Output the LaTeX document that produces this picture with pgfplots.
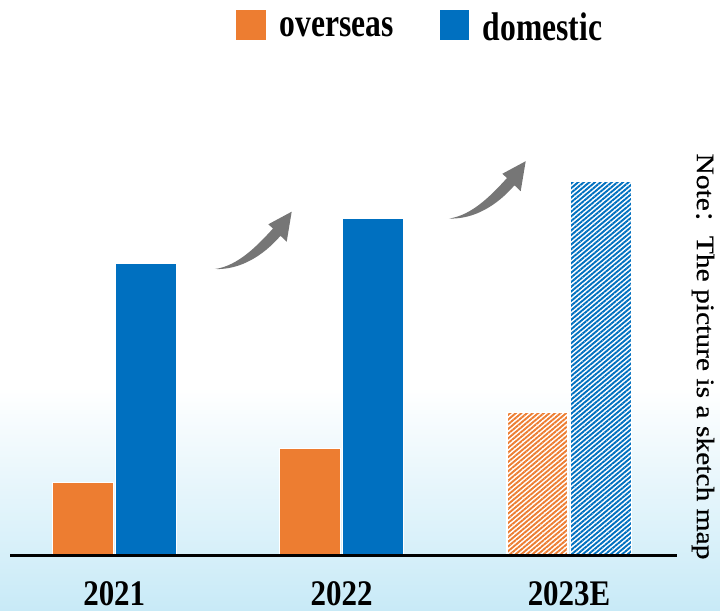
\documentclass[border=0pt]{standalone}
\usepackage{pgfplots}
\pgfplotsset{compat=1.18}
\usetikzlibrary{patterns.meta}
\usepackage{fontspec}
\setmainfont{Liberation Serif}
\newfontfamily\cond{Liberation Serif}[FakeStretch=0.79]
\newfontfamily\condb{Liberation Serif}[FakeStretch=0.86]
\newfontfamily\notefont{Liberation Serif}[FakeStretch=1.18,FakeBold=0.6]
\newfontfamily\cjk{Noto Sans CJK SC}
\definecolor{ora}{RGB}{237,125,49}
\definecolor{blu}{RGB}{0,112,192}
\definecolor{bgb}{RGB}{200,234,247}
\definecolor{arr}{RGB}{118,118,118}
\begin{document}
\begin{tikzpicture}
\useasboundingbox (0,0) rectangle (360pt,305.5pt);
\shade[top color=white, bottom color=bgb] (0,0) rectangle (360pt,112pt);
\begin{axis}[
  at={(5pt,27.75pt)}, anchor=south west,
  width=333.5pt, height=200pt, scale only axis,
  xmin=-0.4584, xmax=2.4747, ymin=0, ymax=400,
  axis x line*=bottom, axis y line=none,
  axis line style={-, line width=1.75pt, black},
  axis on top,
  xtick={0,1,2}, xticklabels={2021,2022,2023E}, major tick length=0pt,
  xticklabel style={font=\condb\bfseries\fontsize{18}{18}\selectfont, anchor=center, inner sep=0pt, yshift=-19pt},
  ytick=\empty,
  clip=false,
  legend style={at={(axis description cs:0.3388,1.3175)}, anchor=west, draw=none, fill=none,
    inner sep=0pt, legend columns=2,
    font=\cond\bfseries\fontsize{20}{20}\selectfont,
    /tikz/every odd column/.append style={column sep=5pt},
    /tikz/every even column/.append style={column sep=21pt}},
  legend cell align=left,
]
\addplot[ybar, bar width=30.5pt, bar shift=-15.8pt, fill=ora, draw=white, line width=0.6pt,
  legend image code/.code={\fill[ora] (0pt,-5.25pt) rectangle (14pt,8.75pt);}]
  coordinates {(0,73) (1,107)};
\addplot[ybar, bar width=30.5pt, bar shift=15.8pt, fill=blu, draw=white, line width=0.6pt,
  legend image code/.code={\fill[blu] (0pt,-5.25pt) rectangle (14pt,8.75pt);}]
  coordinates {(0,292) (1,337)};
\addplot[ybar, bar width=30.5pt, bar shift=-15.8pt, fill=white, draw=white, line width=0.6pt,
  postaction={pattern={Lines[angle=40,distance=1.8pt,line width=0.95pt]}, pattern color=ora}]
  coordinates {(2,143)};
\addplot[ybar, bar width=30.5pt, bar shift=15.8pt, fill=white, draw=white, line width=0.6pt,
  postaction={pattern={Lines[angle=40,distance=1.8pt,line width=0.95pt]}, pattern color=blu}]
  coordinates {(2,374)};
\legend{overseas, domestic}
\end{axis}
\begin{scope}[shift={(0,305.5pt)}, x=0.5pt, y=-0.5pt]
  \foreach \dx/\dy in {0/0, 234/-50.5}{
    \begin{scope}[shift={(\dx,\dy)}]
      \fill[arr] (215,269) .. controls (238,266) and (258,245) .. (273,228.5)
        -- (268.3,224.3) -- (291.7,211.7) -- (286.7,241.7) -- (280.5,235.8)
        .. controls (263,256) and (240,270) .. (215,269) -- cycle;
    \end{scope}
  }
  \node[rotate=-90, font=\notefont\fontsize{12.5}{12.5}\selectfont, inner sep=0pt] at (703,356.5)
    {Note{\cjk{：}}The picture is a sketch map};
\end{scope}
\end{tikzpicture}
\end{document}
